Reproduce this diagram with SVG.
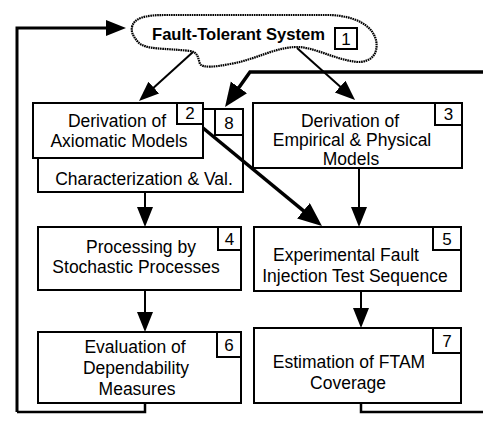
<svg xmlns="http://www.w3.org/2000/svg" width="483" height="422" viewBox="0 0 483 422">
<style>
.box{fill:#fff;stroke:#000;stroke-width:2}
.lbl{fill:#fff;stroke:#000;stroke-width:2}
.t{font-family:"Liberation Sans",Arial,Helvetica,sans-serif;font-size:17.5px;fill:#000;text-anchor:middle}
.n{font-family:"Liberation Sans",Arial,Helvetica,sans-serif;font-size:17px;fill:#000;text-anchor:middle}
.thin{fill:none;stroke:#000;stroke-width:2}
.thick{fill:none;stroke:#000;stroke-width:3.5}
</style>
<defs>
<marker id="ah" markerUnits="userSpaceOnUse" markerWidth="22" markerHeight="18" refX="10" refY="8" orient="auto">
<path d="M0,0 L20,8 L0,16 Z" fill="#000"/>
</marker>
<marker id="ahb" markerUnits="userSpaceOnUse" markerWidth="26" markerHeight="22" refX="12" refY="10" orient="auto">
<path d="M0,0 L24,10 L0,20 Z" fill="#000"/>
</marker>
</defs>
<g id="n1">
<path d="M132,27 C134,18 145,15 165,15 L330,15 C355,16 372,25 376,40 C379,55 370,62 358,62 C335,60 315,47 297,47 C275,47 255,60 230,64 C215,67 203,68 200,64 C198,58 198,52 190,51 C165,48 145,50 138,42 C133,36 131,32 132,27 Z" fill="#fff" stroke="#000" stroke-width="2.2" stroke-dasharray="1.6 0.7"/>
<text class="t" x="152" y="40" style="font-weight:bold;font-size:16.6px;text-anchor:start">Fault-Tolerant System</text>
<rect class="lbl" x="335" y="28" width="22" height="21"/>
<text class="n" x="346" y="45">1</text>
</g>
<g id="n8">
<rect class="box" x="38" y="109" width="205" height="83"/>
<rect class="lbl" x="215" y="109" width="28" height="26"/>
<text class="n" x="229" y="129">8</text>
<text class="t" x="144" y="185">Characterization &amp; Val.</text>
</g>
<g id="n2">
<rect class="box" x="33" y="103" width="170" height="55"/>
<rect class="lbl" x="177" y="103" width="26" height="21"/>
<text class="n" x="190" y="119">2</text>
<text class="t" x="117" y="127">Derivation of</text>
<text class="t" x="119" y="147">Axiomatic Models</text>
</g>
<g id="n3">
<rect class="box" x="253" y="103" width="209" height="65"/>
<rect class="lbl" x="435" y="103" width="27" height="22"/>
<text class="n" x="448.5" y="120">3</text>
<text class="t" x="350" y="127">Derivation of</text>
<text class="t" x="352" y="146">Empirical &amp; Physical</text>
<text class="t" x="351" y="165">Models</text>
</g>
<g id="n4">
<rect class="box" x="38" y="227" width="203" height="63"/>
<rect class="lbl" x="218" y="227" width="23" height="23"/>
<text class="n" x="229.5" y="245">4</text>
<text class="t" x="141" y="253">Processing by</text>
<text class="t" x="136" y="273">Stochastic Processes</text>
</g>
<g id="n5">
<rect class="box" x="254" y="227" width="207" height="64"/>
<rect class="lbl" x="433" y="227" width="28" height="23"/>
<text class="n" x="447" y="245">5</text>
<text class="t" x="346" y="261">Experimental Fault</text>
<text class="t" x="355" y="282">Injection Test Sequence</text>
</g>
<g id="n6">
<rect class="box" x="38" y="332" width="203" height="71"/>
<rect class="lbl" x="217" y="332" width="24" height="25"/>
<text class="n" x="229" y="351">6</text>
<text class="t" x="135" y="353">Evaluation of</text>
<text class="t" x="136" y="374">Dependability</text>
<text class="t" x="137" y="395">Measures</text>
</g>
<g id="n7">
<rect class="box" x="254" y="328" width="207" height="75"/>
<rect class="lbl" x="433" y="328" width="28" height="25"/>
<text class="n" x="447" y="347">7</text>
<text class="t" x="349" y="368">Estimation of FTAM</text>
<text class="t" x="348" y="389">Coverage</text>
</g>
<g id="connectors">
<path class="thin" d="M193,52 L146.4,94.3" marker-end="url(#ah)"/>
<path class="thin" d="M297,48 L347.6,93.3" marker-end="url(#ah)"/>
<path class="thin" d="M145,192 V217" marker-end="url(#ah)"/>
<path class="thin" d="M145,290 V322" marker-end="url(#ah)"/>
<path class="thin" d="M359,168 V217" marker-end="url(#ah)"/>
<path class="thin" d="M361,291 V318" marker-end="url(#ah)"/>
<path class="thick" d="M203,128 L312.7,218.4" marker-end="url(#ahb)"/>
<path class="thin" style="stroke-width:2.5" d="M145,403 V412 H17"/>
<path class="thick" style="stroke-width:3" d="M17,412 V28 H116" marker-end="url(#ah)"/>
<path class="thin" style="stroke-width:2.5" d="M361,403 V412 H483"/>
<path class="thick" d="M483,72 H250 L232,97.2" marker-end="url(#ahb)"/>
</g>
</svg>
